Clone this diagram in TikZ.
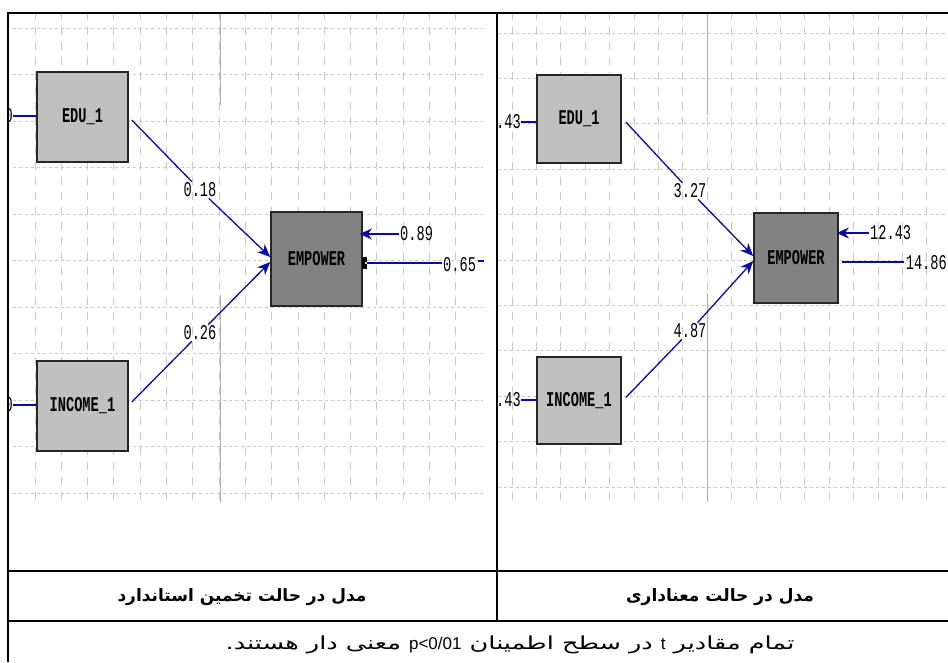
\documentclass[tikz,border=0pt]{standalone}
\usepackage{fontspec}
\setmainfont{Liberation Serif}
\newfontfamily\lis[FakeStretch=0.65]{Liberation Mono}
\newfontfamily\fa[Script=Arabic]{DejaVu Sans}
\newfontfamily\faw[Script=Arabic, FakeStretch=1.42]{DejaVu Sans}
\newfontfamily\fal{Liberation Sans}
\TeXXeTstate=1
\usetikzlibrary{arrows.meta}
\definecolor{pathblue}{RGB}{10,10,165}
\definecolor{gridgray}{RGB}{200,200,200}
\definecolor{gridsolid}{RGB}{175,175,175}
\definecolor{exofill}{RGB}{192,192,192}
\definecolor{endofill}{RGB}{130,130,130}
\tikzset{
  lab/.style={font=\lis\fontsize{21}{21}\selectfont, inner sep=1pt},
  varbox/.style={draw=black!85, line width=1.6pt, inner sep=0pt,
     font=\lis\bfseries\fontsize{21}{21}\selectfont},
  exo/.style={varbox, fill=exofill},
  endo/.style={varbox, fill=endofill},
  hgrid/.style={draw=gridgray, line width=0.9pt, dash pattern=on 3pt off 3pt},
  vgrid/.style={draw=gridgray, line width=0.9pt, dash pattern=on 8pt off 7pt, dash phase=2pt},
  gsolid/.style={draw=gridsolid, line width=1pt},
  conn/.style={draw=pathblue, line width=1.3pt},
  pathar/.style={conn, -{Stealth[length=13pt,width=11pt]}},
  errar/.style={draw=pathblue, line width=2.2pt, -{Stealth[length=12pt,width=11pt]}},
  marker/.style={fill=black, minimum width=5pt, minimum height=12pt, inner sep=0pt},
  tbl/.style={draw=black, line width=2pt},
  hdr/.style={font=\fa\bfseries\fontsize{17}{20}\selectfont, inner sep=0pt},
  ftr/.style={font=\faw\fontsize{18}{20}\selectfont, inner sep=0pt}
}
\newcommand{\ltn}[1]{\beginL{\fal\fontsize{17}{18}\selectfont #1}\endL{}}
\begin{document}
\begin{tikzpicture}[x=1pt,y=-1pt]
\useasboundingbox (0,0) rectangle (948,662);
\fill[white] (0,0) rectangle (948,662);

% ---------- left panel grid ----------
\begin{scope}
\clip (9,14) rectangle (496,570);
\foreach \k in {0,...,10} \draw[hgrid] (13,28+46.5*\k) -- (483,28+46.5*\k);
\foreach \j in {0,...,16} \draw[vgrid] (35+26.3*\j,14) -- (35+26.3*\j,502);
\draw[gsolid] (220,14) -- (220,105);
\draw[gsolid] (220,295) -- (220,502);
\node[lab, anchor=east, inner sep=0pt] (zL1) at (13,116) {0};
\node[lab, anchor=east, inner sep=0pt] (zL2) at (13,405) {0};
\end{scope}

% ---------- right panel grid ----------
\begin{scope}
\clip (498,14) rectangle (948,570);
\foreach \k in {0,...,10} \draw[hgrid] (498,33+45.4*\k) -- (948,33+45.4*\k);
\foreach \j in {0,...,17} \draw[vgrid] (512+24.4*\j,14) -- (512+24.4*\j,502);
\draw[gsolid] (707,14) -- (707,115);
\draw[gsolid] (707,293) -- (707,502);
\end{scope}

% ---------- left model ----------
\node[exo, minimum width=91pt, minimum height=90pt] (eduL) at (82.5,117) {EDU\_1};
\node[exo, minimum width=91pt, minimum height=90pt] (incL) at (82.5,406) {INCOME\_1};
\node[endo, minimum width=91pt, minimum height=94pt] (empL) at (316.5,259) {EMPOWER};

\draw[conn] (zL1.east) -- (zL1.east -| eduL.west);
\draw[conn] (zL2.east) -- (zL2.east -| incL.west);

\node[lab] (gL1) at (200,190) {0.18};
\node[lab] (gL2) at (200,333) {0.26};
\draw[conn] ([xshift=3pt,yshift=-3pt]eduL.east) -- (gL1);
\draw[pathar] (gL1) -- ([yshift=2pt]empL.west);
\draw[conn] ([xshift=3pt,yshift=4pt]incL.east) -- (gL2);
\draw[pathar] (gL2) -- ([yshift=-3pt]empL.west);

\node[lab, anchor=west] (eL) at (399,234) {0.89};
\draw[errar, shorten >=-3pt] (eL.west) -- (eL.west -| empL.east);

\node[marker] (mk) at (364.5,263) {};
\fill[yellow] (mk.center) ++(0.5,-1) rectangle ++(1.5,1.5);
\node[lab, anchor=west] (oL) at (442,265) {0.65};
\draw[conn] (mk.east) -- (mk.east -| oL.west);
\coordinate (oLend) at (484,261);
\draw[conn] ([xshift=1pt]oL.east |- oLend) -- (oLend);

% ---------- right model ----------
\node[exo, minimum width=84pt, minimum height=88pt] (eduR) at (579,119) {EDU\_1};
\node[exo, minimum width=84pt, minimum height=87pt] (incR) at (579,400.5) {INCOME\_1};
\node[endo, minimum width=84pt, minimum height=90pt] (empR) at (796,258) {EMPOWER};

\node[lab, anchor=east, inner sep=0pt] (zR1) at (521,122) {.43};
\node[lab, anchor=east, inner sep=0pt] (zR2) at (521,400) {.43};
\draw[conn] (zR1.east) -- (zR1.east -| eduR.west);
\draw[conn] (zR2.east) -- (zR2.east -| incR.west);

\node[lab] (gR1) at (690,191) {3.27};
\node[lab] (gR2) at (690,331) {4.87};
\draw[conn] ([xshift=4pt,yshift=-3pt]eduR.east) -- (gR1);
\draw[pathar] (gR1) -- ([yshift=2pt]empR.west);
\draw[conn] ([xshift=4pt,yshift=3pt]incR.east) -- (gR2);
\draw[pathar] (gR2) -- ([yshift=-3pt]empR.west);

\node[lab, anchor=west] (eR) at (869,233) {12.43};
\draw[errar, shorten >=-2pt] (eR.west) -- (eR.west -| empR.east);
\node[lab, anchor=east, inner sep=0pt] (oR) at (947,263) {14.86};
\coordinate (empRo) at ([xshift=3pt,yshift=-4pt]empR.east);
\draw[conn] (empRo) -- ([xshift=-2pt]empRo -| oR.west);

% ---------- table ----------
\draw[tbl] (8,662) -- (8,13) -- (948,13);
\draw[tbl] (8,571) -- (948,571);
\draw[tbl] (8,621) -- (948,621);
\draw[tbl] (497,13) -- (497,621);

\node[hdr] (hL) at (242,597) {\beginR مدل در حالت تخمین استاندارد\endR};
\node[hdr] (hR) at (720,597) {\beginR مدل در حالت معناداری\endR};
\node[ftr] (ft) at (510,645) {\beginR تمام مقادیر \ltn{t} در سطح اطمینان \ltn{p<0/01} معنی دار هستند.\endR};
\end{tikzpicture}
\end{document}
